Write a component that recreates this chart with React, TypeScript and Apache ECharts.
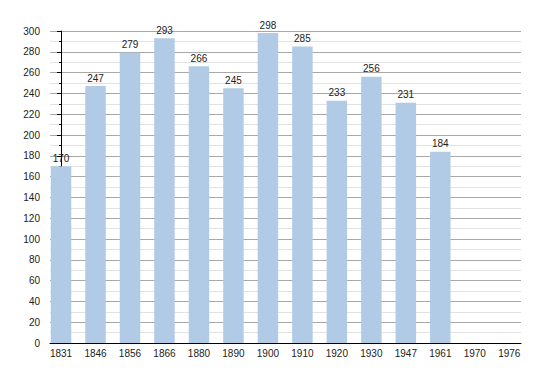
import React, { useEffect, useRef } from "react";
import * as echarts from "echarts";

const years = ["1831", "1846", "1856", "1866", "1880", "1890", "1900", "1910", "1920", "1930", "1947", "1961", "1970", "1976"];
const population: (number | null)[] = [170, 247, 279, 293, 266, 245, 298, 285, 233, 256, 231, 184, null, null];
const yTicks = [0, 300, 20];

export default function App() {
  const ref = useRef<HTMLDivElement>(null);
  useEffect(() => {
    if (!ref.current) return;
    const chart = echarts.init(ref.current, null, { renderer: "svg" });
    const font = "'Liberation Sans', Arial, sans-serif";
    const data = population
      .map((v, i) => (v == null ? null : [i, v]))
      .filter((d) => d !== null);
    chart.setOption({
      animation: false,
      grid: { left: 50, right: 29, top: 31, bottom: 30 },
      xAxis: {
        type: "value",
        min: -0.32,
        max: 13.34,
        axisLine: { show: true, lineStyle: { color: "#000", width: 1 } },
        axisTick: { show: false },
        splitLine: { show: false },
        axisLabel: {
          customValues: years.map((_, i) => i),
          formatter: (v: number) => years[Math.round(v)] ?? "",
          color: "#222",
          fontSize: 10,
          fontFamily: font,
          margin: 5,
        },
      },
      yAxis: {
        type: "value",
        min: yTicks[0],
        max: yTicks[1],
        interval: yTicks[2],
        axisLine: { show: true, lineStyle: { color: "#000", width: 1 } },
        axisTick: { show: true, length: 4, lineStyle: { color: "#000" } },
        minorTick: { show: true, splitNumber: 2, length: 2, lineStyle: { color: "#000" } },
        splitLine: { show: true, lineStyle: { color: "#a8a8a8", width: 1 } },
        minorSplitLine: { show: true, lineStyle: { color: "#e2e2e2", width: 1 } },
        axisLabel: { color: "#222", fontSize: 10, fontFamily: font, margin: 10 },
      },
      series: [
        {
          type: "bar",
          data,
          barWidth: 20.5,
          itemStyle: { color: "#b1cbe6" },
          label: {
            show: true,
            position: "top",
            distance: 3,
            color: "#222",
            fontSize: 10,
            fontFamily: font,
          },
        },
      ],
    });
    return () => chart.dispose();
  }, []);
  return (
    <div
      ref={ref}
      style={{ position: "absolute", left: 0, top: 0, width: 550, height: 373, background: "#fff" }}
    />
  );
}
